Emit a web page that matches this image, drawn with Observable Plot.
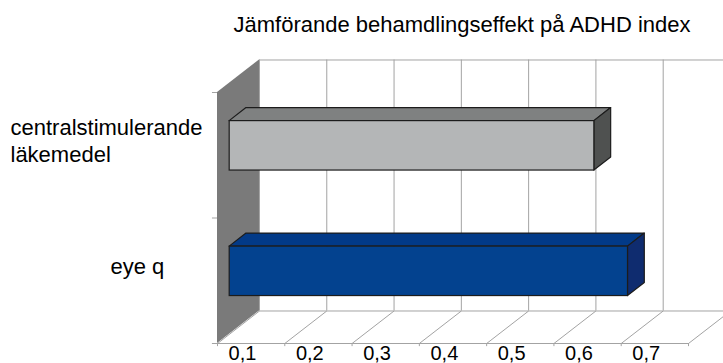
<!DOCTYPE html>
<html>
<head>
<meta charset="utf-8">
<script src="https://cdn.jsdelivr.net/npm/d3@7"></script>
<script src="https://cdn.jsdelivr.net/npm/@observablehq/plot@0.6"></script>
<style>
  html, body { margin: 0; padding: 0; background: #fff; }
  svg { display: block; }
</style>
</head>
<body>
<div id="chart"></div>
<script>
// ---- data ----
const title = "Jämförande behamdlingseffekt på ADHD index";
const categories = ["centralstimulerande\nläkemedel", "eye q"];
const values = [0.642, 0.692];
const xTicks = [0.1, 0.2, 0.3, 0.4, 0.5, 0.6, 0.7, 0.8];
const xTickLabels = ["0,1", "0,2", "0,3", "0,4", "0,5", "0,6", "0,7"];

// ---- styles ----
const frontColors = ["#b4b6b7", "#03428f"];
const topColors = ["#7f8181", "#023a88"];
const sideColors = ["#4f5150", "#0f2c6f"];
const gridColor = "#a3a3a3";
const wallColor = "#7a7a7a";
const edgeColor = "#1c1c1c";

// ---- 3D geometry (data units) ----
const X0 = 0.1, X1 = 0.8;
const N = categories.length;
const DX = 0.0624, DY = 0.259;   // wall depth
const F0 = 0.29, F1 = 0.69;      // bar front/back depth fractions
const HALF = 0.197;              // half bar thickness

const bars = categories.map((c, i) => {
  const yc = N - i - 0.5;
  return {
    i, c, yc,
    x1: X0 + F0 * DX, x2: values[i] + F0 * DX,
    y1: yc - HALF + F0 * DY, y2: yc + HALF + F0 * DY,
    ddx: (F1 - F0) * DX, ddy: (F1 - F0) * DY
  };
});
const topRows = bars.flatMap(b => [
  {i: b.i, y: b.y2, x1: b.x1, x2: b.x2},
  {i: b.i, y: b.y2 + b.ddy, x1: b.x1 + b.ddx, x2: b.x2 + b.ddx}
]);
const sideRows = bars.flatMap(b => [
  {i: b.i, x: b.x2, y1: b.y1, y2: b.y2},
  {i: b.i, x: b.x2 + b.ddx, y1: b.y1 + b.ddy, y2: b.y2 + b.ddy}
]);
const wallRows = [
  {x: X0, y1: 0, y2: N},
  {x: X0 + DX, y1: DY, y2: N + DY}
];

const chart = Plot.plot({
  width: 723,
  height: 363,
  marginLeft: 217,
  marginRight: 35,
  marginTop: 92,
  marginBottom: 20,
  x: {domain: [X0, X1], axis: null},
  y: {domain: [0, N], axis: null},
  color: {type: "identity"},
  style: {fontFamily: "'Liberation Sans', Arial, sans-serif", background: "#fff", color: "#000"},
  marks: [
    // left wall
    Plot.areaY(wallRows, {x: "x", y1: "y1", y2: "y2", fill: wallColor, curve: "linear"}),
    // back wall gridlines
    Plot.ruleX(xTicks, {x: d => d + DX, y1: DY, y2: N + DY, stroke: gridColor}),
    Plot.ruleY([N + DY], {x1: X0 + DX, x2: 1, stroke: gridColor}),
    Plot.ruleY([DY], {x1: X0 + DX, x2: 1, stroke: gridColor}),
    // floor diagonals
    Plot.link(xTicks, {x1: d => d, y1: 0, x2: d => d + DX, y2: DY, stroke: gridColor}),
    // front floor edge
    Plot.ruleY([0], {x1: X0 - 0.0075, x2: X1, stroke: gridColor}),
    // y ticks
    Plot.ruleY(d3.range(N + 1), {x1: X0 - 0.0075, x2: X0, stroke: gridColor}),
    // x ticks
    Plot.ruleX(xTicks, {x: d => d, y1: 0, y2: -0.025, stroke: gridColor}),
    // bars: top, side, front
    Plot.areaX(topRows, {y: "y", x1: "x1", x2: "x2", z: "i", fill: d => topColors[d.i], stroke: edgeColor, strokeWidth: 1.2, curve: "linear"}),
    Plot.areaY(sideRows, {x: "x", y1: "y1", y2: "y2", z: "i", fill: d => sideColors[d.i], stroke: edgeColor, strokeWidth: 1.2, curve: "linear"}),
    Plot.rect(bars, {x1: "x1", x2: "x2", y1: "y1", y2: "y2", fill: d => frontColors[d.i], stroke: edgeColor, strokeWidth: 1.2}),
    // category labels
    Plot.text(bars.filter(b => b.i === 0), {y: "yc", text: "c", frameAnchor: "left", textAnchor: "start", dx: -207, dy: -15, lineHeight: 1.21, fontSize: 22, fill: "#000"}),
    Plot.text(bars.filter(b => b.i === 1), {y: "yc", text: "c", frameAnchor: "left", textAnchor: "start", dx: -107, dy: -14, fontSize: 22, fill: "#000"}),
    // x tick labels
    Plot.text(xTickLabels, {x: (d, i) => xTicks[i], text: d => d, frameAnchor: "bottom", lineAnchor: "bottom", dx: 25, dy: 16, fontSize: 20, fill: "#000"}),
    // title
    Plot.text([title], {text: d => d, frameAnchor: "top", lineAnchor: "bottom", dx: 9, dy: -61, fontSize: 22, fill: "#000"})
  ]
});
document.getElementById("chart").appendChild(chart);
</script>
</body>
</html>
